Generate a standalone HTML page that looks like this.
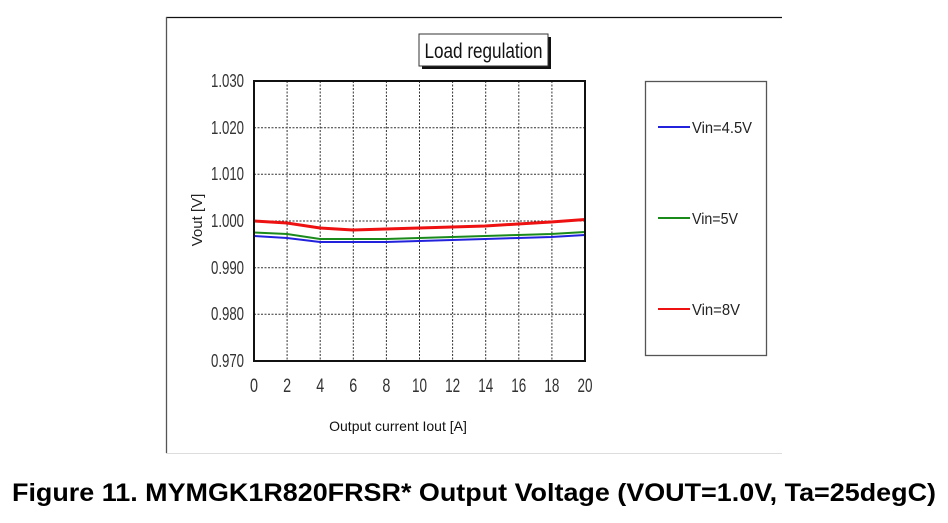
<!DOCTYPE html>
<html><head><meta charset="utf-8"><style>html,body{margin:0;padding:0;background:#fff}svg{display:block}</style></head>
<body>
<svg width="948" height="523" viewBox="0 0 948 523" xmlns="http://www.w3.org/2000/svg" font-family="Liberation Sans, sans-serif">
<rect width="948" height="523" fill="#fff"/>
<line x1="166" y1="17.5" x2="782" y2="17.5" stroke="#111" stroke-width="1.3"/>
<line x1="166.5" y1="17" x2="166.5" y2="453" stroke="#555" stroke-width="1.3"/>
<line x1="166" y1="453.5" x2="782" y2="453.5" stroke="#ddd" stroke-width="1"/>
<rect x="422" y="37" width="129" height="32" fill="#111"/>
<rect x="419" y="34" width="129" height="32" fill="#fff" stroke="#333" stroke-width="1"/>
<text x="483.5" y="58" font-size="21" text-anchor="middle" textLength="118" lengthAdjust="spacingAndGlyphs" fill="#111">Load regulation</text>
<g stroke="#333" stroke-width="1" stroke-dasharray="2,1.5">
<line x1="254" y1="127.7" x2="585" y2="127.7"/>
<line x1="254" y1="174.3" x2="585" y2="174.3"/>
<line x1="254" y1="221" x2="585" y2="221"/>
<line x1="254" y1="267.7" x2="585" y2="267.7"/>
<line x1="254" y1="314.3" x2="585" y2="314.3"/>
<line x1="287.1" y1="81" x2="287.1" y2="361"/>
<line x1="320.2" y1="81" x2="320.2" y2="361"/>
<line x1="353.3" y1="81" x2="353.3" y2="361"/>
<line x1="386.4" y1="81" x2="386.4" y2="361"/>
<line x1="419.5" y1="81" x2="419.5" y2="361"/>
<line x1="452.6" y1="81" x2="452.6" y2="361"/>
<line x1="485.7" y1="81" x2="485.7" y2="361"/>
<line x1="518.8" y1="81" x2="518.8" y2="361"/>
<line x1="551.9" y1="81" x2="551.9" y2="361"/>
</g>
<polyline fill="none" stroke="#2222dd" stroke-width="2" points="254,236 287,238 320,242 353,242 386,242 419,241 452,240 485,239 518,238 551,237 585,235"/>
<polyline fill="none" stroke="#1a8a1a" stroke-width="2" points="254,232.5 287,234 320,239 353,239 386,239 419,238 452,237 485,236 518,235 551,234 585,232"/>
<polyline fill="none" stroke="#ee1111" stroke-width="3" points="254,221 287,223 320,228 353,230 386,229 419,228 452,227 485,226 518,224 551,222 585,219.5"/>
<rect x="254" y="81" width="331" height="280" fill="none" stroke="#111" stroke-width="2"/>
<g font-size="18" fill="#333" text-anchor="end">
<text x="244" y="87" textLength="33" lengthAdjust="spacingAndGlyphs">1.030</text>
<text x="244" y="134" textLength="33" lengthAdjust="spacingAndGlyphs">1.020</text>
<text x="244" y="180" textLength="33" lengthAdjust="spacingAndGlyphs">1.010</text>
<text x="244" y="227" textLength="33" lengthAdjust="spacingAndGlyphs">1.000</text>
<text x="244" y="274" textLength="33" lengthAdjust="spacingAndGlyphs">0.990</text>
<text x="244" y="320" textLength="33" lengthAdjust="spacingAndGlyphs">0.980</text>
<text x="244" y="367" textLength="33" lengthAdjust="spacingAndGlyphs">0.970</text>
</g>
<g font-size="19" fill="#333" text-anchor="middle">
<text x="254" y="392" textLength="8" lengthAdjust="spacingAndGlyphs">0</text><text x="287.1" y="392" textLength="8" lengthAdjust="spacingAndGlyphs">2</text><text x="320.2" y="392" textLength="8" lengthAdjust="spacingAndGlyphs">4</text><text x="353.3" y="392" textLength="8" lengthAdjust="spacingAndGlyphs">6</text><text x="386.4" y="392" textLength="8" lengthAdjust="spacingAndGlyphs">8</text>
<text x="419.5" y="392" textLength="15" lengthAdjust="spacingAndGlyphs">10</text><text x="452.6" y="392" textLength="15" lengthAdjust="spacingAndGlyphs">12</text><text x="485.7" y="392" textLength="15" lengthAdjust="spacingAndGlyphs">14</text><text x="518.8" y="392" textLength="15" lengthAdjust="spacingAndGlyphs">16</text><text x="551.9" y="392" textLength="15" lengthAdjust="spacingAndGlyphs">18</text><text x="585" y="392" textLength="15" lengthAdjust="spacingAndGlyphs">20</text>
</g>
<text x="202" y="220" font-size="15" fill="#222" text-anchor="middle" transform="rotate(-90 202 220)">Vout [V]</text>
<text x="398" y="431" font-size="14" fill="#111" text-anchor="middle">Output current Iout [A]</text>
<rect x="645.5" y="81.5" width="121" height="274" fill="#fff" stroke="#555" stroke-width="1.3"/>
<line x1="658" y1="127" x2="690" y2="127" stroke="#2222dd" stroke-width="2"/>
<text x="692" y="133" font-size="16" fill="#222" textLength="60" lengthAdjust="spacingAndGlyphs">Vin=4.5V</text>
<line x1="658" y1="218" x2="690" y2="218" stroke="#1a8a1a" stroke-width="2"/>
<text x="692" y="224" font-size="16" fill="#222" textLength="46" lengthAdjust="spacingAndGlyphs">Vin=5V</text>
<line x1="658" y1="309" x2="690" y2="309" stroke="#ee1111" stroke-width="2"/>
<text x="692" y="315" font-size="16" fill="#222" textLength="48" lengthAdjust="spacingAndGlyphs">Vin=8V</text>
<text x="12" y="501" font-size="25" font-weight="bold" fill="#000" textLength="924" lengthAdjust="spacingAndGlyphs">Figure 11. MYMGK1R820FRSR* Output Voltage (VOUT=1.0V, Ta=25degC)</text>
</svg>
</body></html>
